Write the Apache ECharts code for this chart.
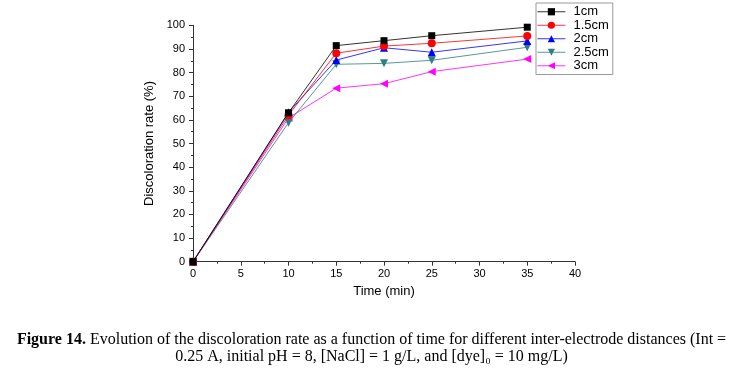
<!DOCTYPE html>
<html>
<head>
<meta charset="utf-8">
<script src="https://cdn.jsdelivr.net/npm/echarts@6/dist/echarts.min.js"></script>
<style>
html,body{margin:0;padding:0;background:#fff;}
#c{width:743px;height:378px;}
</style>
</head>
<body>
<div id="c"></div>
<script>
var times = [0, 10, 15, 20, 25, 35];
var seriesNames = ['1cm', '1.5cm', '2cm', '2.5cm', '3cm'];
var d1cm   = [0, 63.0, 91.4, 93.5, 95.6, 99.2];
var d15cm  = [0, 62.0, 88.2, 91.2, 92.4, 95.5];
var d2cm   = [0, 63.2, 85.3, 90.5, 88.6, 93.4];
var d25cm  = [0, 58.8, 83.5, 83.9, 85.2, 90.7];
var d3cm   = [0, 60.8, 73.4, 75.3, 80.4, 85.7];
var xTicks = [0, 5, 10, 15, 20, 25, 30, 35, 40];
var yTicks = [0, 10, 20, 30, 40, 50, 60, 70, 80, 90, 100];

var colors = ['#000000', '#ff0000', '#0000ff', '#2e7f7f', '#ff00ff'];
var symbols = ['rect', 'circle', 'triangle', 'triangle', 'triangle'];
var rotates = [0, 0, 0, 180, 90];
var sizes = [7, 8, 8, 8, 8];
var allData = [d1cm, d15cm, d2cm, d25cm, d3cm];

function pairs(arr){ return times.map(function(t,i){ return [t, arr[i]]; }); }

var series = seriesNames.map(function(n, i){
  return {
    name: n, type: 'line', data: pairs(allData[i]),
    symbol: symbols[i], symbolSize: sizes[i], symbolRotate: rotates[i],
    itemStyle: {color: colors[i]},
    lineStyle: {color: colors[i], width: 0.8},
    z: 10 - i
  };
});

var font = 'Liberation Sans, Arial, sans-serif';
var chart = echarts.init(document.getElementById('c'), null, {renderer: 'canvas'});
chart.setOption({
  animation: false,
  backgroundColor: '#fff',
  grid: {left: 193, right: 168, top: 25.3, bottom: 116.3, containLabel: false},
  xAxis: {
    type: 'value', min: xTicks[0], max: xTicks[xTicks.length-1], interval: 5,
    name: 'Time (min)', nameLocation: 'middle', nameGap: 23,
    nameTextStyle: {fontFamily: font, fontSize: 13, color: '#000'},
    axisLine: {lineStyle: {color: '#333', width: 1}},
    axisTick: {inside: false, length: 4, lineStyle: {color: '#333'}},
    minorTick: {show: true, splitNumber: 2, length: 2, lineStyle: {color: '#333'}},
    axisLabel: {fontFamily: font, fontSize: 11, color: '#000', margin: 7},
    splitLine: {show: false}
  },
  yAxis: {
    type: 'value', min: yTicks[0], max: yTicks[yTicks.length-1], interval: 10,
    name: 'Discoloration rate (%)', nameLocation: 'middle', nameGap: 33, nameRotate: 90,
    nameTextStyle: {fontFamily: font, fontSize: 13, color: '#000'},
    axisLine: {show: true, lineStyle: {color: '#333', width: 1}},
    axisTick: {show: true, inside: false, length: 4, lineStyle: {color: '#333'}},
    minorTick: {show: true, splitNumber: 2, length: 2, lineStyle: {color: '#333'}},
    axisLabel: {fontFamily: font, fontSize: 11, color: '#000', margin: 8},
    splitLine: {show: false}
  },
  legend: {
    orient: 'vertical', left: 536, top: 3,
    data: seriesNames,
    itemWidth: 28, itemHeight: 9, itemGap: 0,
    padding: [2, 4, 2, 1],
    borderColor: '#999', borderWidth: 1,
    lineStyle: {width: 0.8},
    textStyle: {fontFamily: font, fontSize: 13, color: '#000', lineHeight: 13.5, padding: [0,0,0,3]}
  },
  title: [
    {
      text: '{b|Figure 14.} Evolution of the discoloration rate as a function of time for different inter-electrode distances (Int =',
      left: 'center', top: 327,
      textStyle: {
        fontFamily: 'Liberation Serif, serif', fontSize: 16, fontWeight: 'normal', color: '#000',
        rich: {b: {fontFamily: 'Liberation Serif, serif', fontSize: 16, fontWeight: 'bold', color: '#000'}}
      }
    },
    {
      text: '0.25 A, initial pH = 8, [NaCl] = 1 g/L, and [dye]\u2080 = 10 mg/L)',
      left: 'center', top: 344,
      textStyle: {fontFamily: 'Liberation Serif, serif', fontSize: 16, fontWeight: 'normal', color: '#000'}
    }
  ],
  series: series
});
</script>
</body>
</html>
